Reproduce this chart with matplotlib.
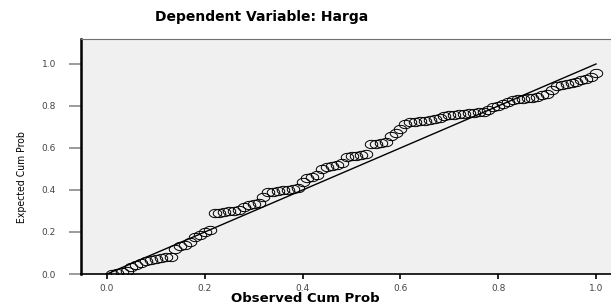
import numpy as np
import matplotlib
matplotlib.use("Agg")
import matplotlib.pyplot as plt
from matplotlib.path import Path

# Observed vs expected cumulative probabilities
observed = [0.01, 0.02, 0.03, 0.04, 0.05, 0.06, 0.07, 0.08, 0.09, 0.10,
            0.11, 0.12, 0.13, 0.14, 0.15, 0.16, 0.17, 0.18, 0.19, 0.20,
            0.21, 0.22, 0.23, 0.24, 0.25, 0.26, 0.27, 0.28, 0.29, 0.30,
            0.31, 0.32, 0.33, 0.34, 0.35, 0.36, 0.37, 0.38, 0.39, 0.40,
            0.41, 0.42, 0.43, 0.44, 0.45, 0.46, 0.47, 0.48, 0.49, 0.50,
            0.51, 0.52, 0.53, 0.54, 0.55, 0.56, 0.57, 0.58, 0.59, 0.60,
            0.61, 0.62, 0.63, 0.64, 0.65, 0.66, 0.67, 0.68, 0.69, 0.70,
            0.71, 0.72, 0.73, 0.74, 0.75, 0.76, 0.77, 0.78, 0.79, 0.80,
            0.81, 0.82, 0.83, 0.84, 0.85, 0.86, 0.87, 0.88, 0.89, 0.90,
            0.91, 0.92, 0.93, 0.94, 0.95, 0.96, 0.97, 0.98, 0.99, 1.00]
expected = [0.000, 0.005, 0.010, 0.015, 0.035, 0.045, 0.050, 0.060, 0.065, 0.070,
            0.075, 0.080, 0.080, 0.120, 0.135, 0.140, 0.150, 0.175, 0.185, 0.200,
            0.210, 0.290, 0.290, 0.295, 0.300, 0.300, 0.305, 0.320, 0.330, 0.335,
            0.340, 0.365, 0.390, 0.390, 0.395, 0.400, 0.400, 0.405, 0.410, 0.440,
            0.455, 0.460, 0.470, 0.500, 0.510, 0.515, 0.520, 0.530, 0.555, 0.560,
            0.560, 0.565, 0.570, 0.620, 0.620, 0.625, 0.630, 0.655, 0.670, 0.690,
            0.715, 0.725, 0.725, 0.730, 0.730, 0.735, 0.740, 0.745, 0.750, 0.755,
            0.755, 0.760, 0.760, 0.765, 0.765, 0.770, 0.770, 0.780, 0.795, 0.800,
            0.810, 0.820, 0.830, 0.835, 0.835, 0.840, 0.840, 0.845, 0.850, 0.855,
            0.875, 0.895, 0.900, 0.905, 0.910, 0.915, 0.925, 0.930, 0.940, 0.955]
ticks = [0.0, 0.2, 0.4, 0.6, 0.8, 1.0]
tick_labels = ["0.0", "0.2", "0.4", "0.6", "0.8", "1.0"]

# wide ellipse marker (SPSS output is stretched horizontally)
t = np.linspace(0, 2 * np.pi, 40)
ellipse = Path(np.column_stack([1.5 * np.cos(t), np.sin(t)]))

fig = plt.figure(figsize=(6.11, 3.06), dpi=100)
ax = fig.add_axes([81 / 611, 32 / 306, 530 / 611, 235 / 306])
ax.set_facecolor("#f0f0f0")

ax.plot([0, 1], [0, 1], color="black", lw=1.0)
ax.plot(observed, expected, linestyle="none", marker=ellipse, markersize=9,
        markerfacecolor="none", markeredgecolor="black", markeredgewidth=0.7)

ax.set_xlim(-0.0532, 1.0307)
ax.set_ylim(0, 1.119)
ax.set_xticks(ticks)
ax.set_xticklabels(tick_labels)
ax.set_yticks(ticks)
ax.set_yticklabels(tick_labels)

ax.tick_params(axis="y", direction="out", length=9, width=1.2, color="#8a8a8a",
               pad=9, labelsize=6.5, labelcolor="#444444")
ax.tick_params(axis="x", direction="out", length=3.5, width=1.2, color="black",
               pad=4, labelsize=6.5, labelcolor="#444444")

ax.spines["left"].set_linewidth(1.8)
ax.spines["left"].set_color("black")
ax.spines["bottom"].set_linewidth(1.2)
ax.spines["bottom"].set_color("black")
ax.spines["top"].set_linewidth(0.8)
ax.spines["top"].set_color("#707070")
ax.spines["right"].set_visible(False)

fig.text(262 / 611, 1 - 17 / 306, "Dependent Variable: Harga", ha="center",
         va="center", fontsize=10, fontweight="bold", family="DejaVu Sans")
fig.text(305 / 611, 1 - 299 / 306, "Observed Cum Prob", ha="center",
         va="center", fontsize=9.5, fontweight="bold", family="DejaVu Sans")
fig.text(22 / 611, 1 - 177 / 306, "Expected Cum Prob", ha="center",
         va="center", rotation=90, fontsize=7.5, fontstretch="condensed",
         family=["Liberation Sans Narrow", "DejaVu Sans"])

fig.savefig("out.png", dpi=100)
